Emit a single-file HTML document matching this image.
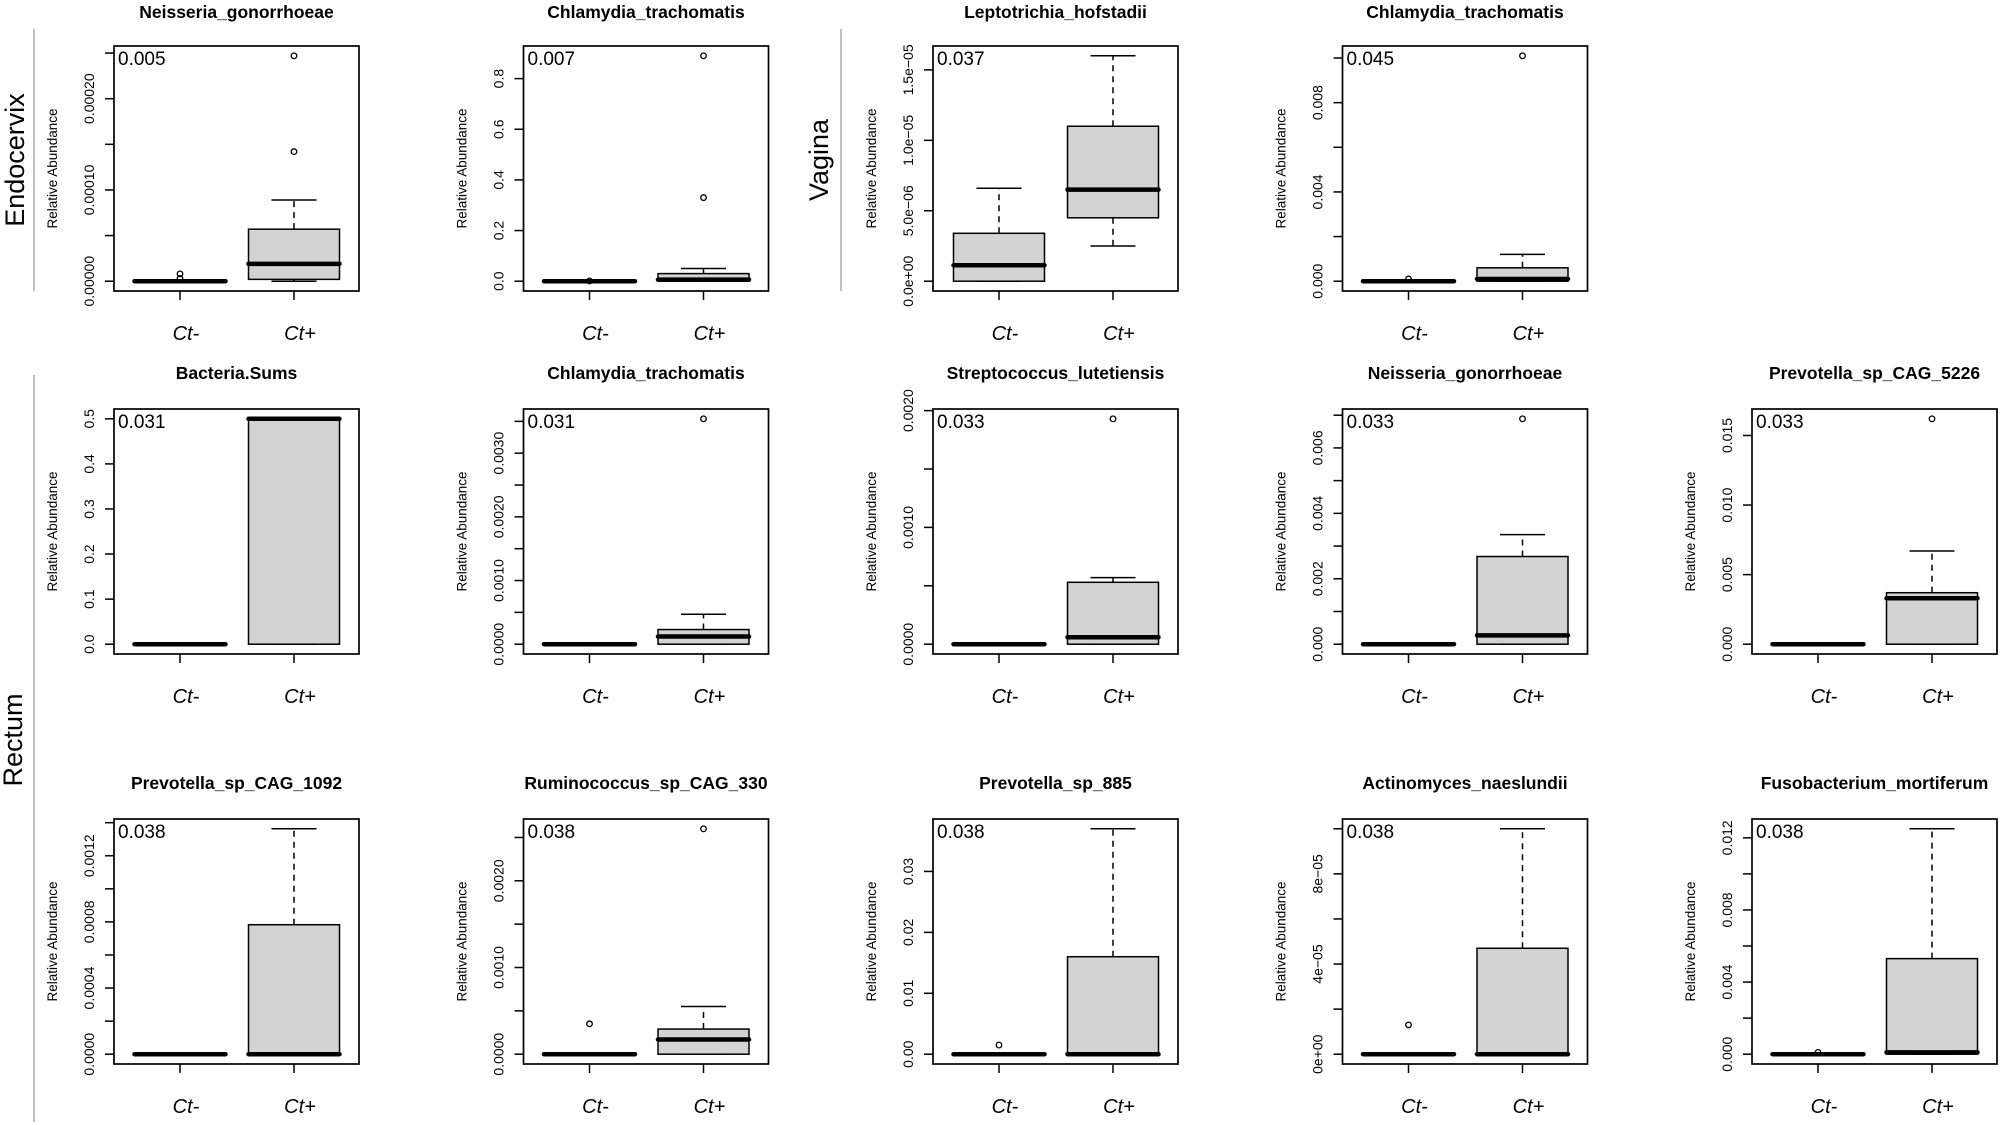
<!DOCTYPE html>
<html><head><meta charset="utf-8"><style>
html,body{margin:0;padding:0;background:#fff;}
svg{display:block;font-family:"Liberation Sans",Arial,sans-serif;}
</style></head><body>
<svg id="s" width="2000" height="1125" viewBox="0 0 2000 1125" xmlns="http://www.w3.org/2000/svg">
<text x="0" y="0" font-size="27" transform="translate(24,160) rotate(-90)" text-anchor="middle">Endocervix</text>
<line x1="34" y1="29" x2="34" y2="291" stroke="#aaa" stroke-width="1.5"/>
<text x="0" y="0" font-size="27" transform="translate(828,160) rotate(-90)" text-anchor="middle">Vagina</text>
<line x1="841" y1="29" x2="841" y2="291" stroke="#aaa" stroke-width="1.5"/>
<text x="0" y="0" font-size="27" transform="translate(22,740) rotate(-90)" text-anchor="middle">Rectum</text>
<line x1="34" y1="375" x2="34" y2="1122" stroke="#aaa" stroke-width="1.5"/>
</svg>
<script>
var S=document.getElementById('s');var out='';
var P=[
 {c:0,r:0,t:"Neisseria_gonorrhoeae",p:"0.005",max:0.000247,ticks:[0,5e-5,1e-4,1.5e-4,2e-4,2.5e-4],lab:{0:"0.00000",2:"0.00010",4:"0.00020"},
  a:[0,0,0,0,0,[0.000008,0.000003]],b:[0,0.000002,0.000019,0.000057,0.000089,[0.000142,0.000247]]},
 {c:1,r:0,t:"Chlamydia_trachomatis",p:"0.007",max:0.89,ticks:[0,0.2,0.4,0.6,0.8],lab:{0:"0.0",1:"0.2",2:"0.4",3:"0.6",4:"0.8"},
  a:[0,0,0,0,0,[0.001]],b:[0,0,0.006,0.03,0.05,[0.33,0.89]]},
 {c:2,r:0,t:"Leptotrichia_hofstadii",p:"0.037",max:1.6e-5,ticks:[0,5e-6,1e-5,1.5e-5],lab:{0:"0.0e+00",1:"5.0e\u221206",2:"1.0e\u221205",3:"1.5e\u221205"},
  a:[0,0,1.13e-6,3.4e-6,6.6e-6,[]],b:[2.5e-6,4.5e-6,6.5e-6,1.1e-5,1.6e-5,[]]},
 {c:3,r:0,t:"Chlamydia_trachomatis",p:"0.045",max:0.0101,ticks:[0,0.002,0.004,0.006,0.008,0.010],lab:{0:"0.000",2:"0.004",4:"0.008"},
  a:[0,0,0,0,0,[0.0001]],b:[0,0,0.0001,0.0006,0.0012,[0.0101]]},
 {c:0,r:1,t:"Bacteria.Sums",p:"0.031",max:0.5,ticks:[0,0.1,0.2,0.3,0.4,0.5],lab:{0:"0.0",1:"0.1",2:"0.2",3:"0.3",4:"0.4",5:"0.5"},
  a:[0,0,0,0,0,[]],b:[0,0,0.5,0.5,0.5,[]]},
 {c:1,r:1,t:"Chlamydia_trachomatis",p:"0.031",max:0.00354,ticks:[0,5e-4,1e-3,1.5e-3,2e-3,2.5e-3,3e-3,3.5e-3],lab:{0:"0.0000",2:"0.0010",4:"0.0020",6:"0.0030"},
  a:[0,0,0,0,0,[]],b:[0,0,0.00012,0.00023,0.00047,[0.00354]]},
 {c:2,r:1,t:"Streptococcus_lutetiensis",p:"0.033",max:0.00193,ticks:[0,5e-4,1e-3,1.5e-3,2e-3],lab:{0:"0.0000",2:"0.0010",4:"0.0020"},
  a:[0,0,0,0,0,[]],b:[0,0,0.00006,0.00053,0.00057,[0.00193]]},
 {c:3,r:1,t:"Neisseria_gonorrhoeae",p:"0.033",max:0.00689,ticks:[0,0.001,0.002,0.003,0.004,0.005,0.006,0.007],lab:{0:"0.000",2:"0.002",4:"0.004",6:"0.006"},
  a:[0,0,0,0,0,[]],b:[0,0,0.00027,0.00268,0.00335,[0.00689]]},
 {c:4,r:1,t:"Prevotella_sp_CAG_5226",p:"0.033",max:0.0162,ticks:[0,0.005,0.010,0.015],lab:{0:"0.000",1:"0.005",2:"0.010",3:"0.015"},
  a:[0,0,0,0,0,[]],b:[0,0,0.0033,0.0037,0.0067,[0.0162]]},
 {c:0,r:2,t:"Prevotella_sp_CAG_1092",p:"0.038",max:0.001363,ticks:[0,2e-4,4e-4,6e-4,8e-4,1e-3,1.2e-3,1.4e-3],lab:{0:"0.0000",2:"0.0004",4:"0.0008",6:"0.0012"},
  a:[0,0,0,0,0,[]],b:[0,0,0,0.000783,0.001363,[]]},
 {c:1,r:2,t:"Ruminococcus_sp_CAG_330",p:"0.038",max:0.0026,ticks:[0,5e-4,1e-3,1.5e-3,2e-3,2.5e-3],lab:{0:"0.0000",2:"0.0010",4:"0.0020"},
  a:[0,0,0,0,0,[0.00035]],b:[0,0,0.00017,0.00029,0.00055,[0.0026]]},
 {c:2,r:2,t:"Prevotella_sp_885",p:"0.038",max:0.037,ticks:[0,0.01,0.02,0.03],lab:{0:"0.00",1:"0.01",2:"0.02",3:"0.03"},
  a:[0,0,0,0,0,[0.0015]],b:[0,0,0,0.016,0.037,[]]},
 {c:3,r:2,t:"Actinomyces_naeslundii",p:"0.038",max:1.0e-4,ticks:[0,2e-5,4e-5,6e-5,8e-5,1e-4],lab:{0:"0e+00",2:"4e\u221205",4:"8e\u221205"},
  a:[0,0,0,0,0,[1.3e-5]],b:[0,0,0,4.7e-5,1.0e-4,[]]},
 {c:4,r:2,t:"Fusobacterium_mortiferum",p:"0.038",max:0.0125,ticks:[0,0.002,0.004,0.006,0.008,0.010,0.012],lab:{0:"0.000",2:"0.004",4:"0.008",6:"0.012"},
  a:[0,0,0,0,0,[0.0001]],b:[0,0,0.0001,0.0053,0.0125,[]]}
];
var LX=[114,523.5,933,1342.5,1752], TY=[46,409,819], W=245, TO=[-28,-30,-30];
P.forEach(function(p){
 var L=LX[p.c],T=TY[p.r];
 function Y(v){return T+9.8+(1-v/p.max)*225.4;}
 var s='';
 s+='<text x="'+(L+W/2)+'" y="'+(T+TO[p.r])+'" font-size="17.5" font-weight="bold" text-anchor="middle">'+p.t+'</text>';
 function box(cx,d){
  var lo=Y(d[0]),q1=Y(d[1]),md=Y(d[2]),q3=Y(d[3]),hi=Y(d[4]);
  var g='';
  if(hi<q3-0.5) g+='<line x1="'+cx+'" y1="'+q3+'" x2="'+cx+'" y2="'+hi+'" stroke="#000" stroke-width="1.5" stroke-dasharray="6,5"/>';
  if(lo>q1+0.5) g+='<line x1="'+cx+'" y1="'+q1+'" x2="'+cx+'" y2="'+lo+'" stroke="#000" stroke-width="1.5" stroke-dasharray="6,5"/>';
  g+='<line x1="'+(cx-22.5)+'" y1="'+hi+'" x2="'+(cx+22.5)+'" y2="'+hi+'" stroke="#000" stroke-width="1.5"/>';
  g+='<line x1="'+(cx-22.5)+'" y1="'+lo+'" x2="'+(cx+22.5)+'" y2="'+lo+'" stroke="#000" stroke-width="1.5"/>';
  g+='<rect x="'+(cx-45.5)+'" y="'+q3+'" width="91" height="'+Math.max(q1-q3,0.01)+'" fill="#d3d3d3" stroke="#000" stroke-width="1.5"/>';
  g+='<line x1="'+(cx-45.5)+'" y1="'+md+'" x2="'+(cx+45.5)+'" y2="'+md+'" stroke="#000" stroke-width="4.5" stroke-linecap="round"/>';
  d[5].forEach(function(o){g+='<circle cx="'+cx+'" cy="'+Y(o)+'" r="2.8" fill="none" stroke="#000" stroke-width="1.3"/>';});
  return g;
 }
 s+=box(L+66,p.a)+box(L+180,p.b);
 s+='<rect x="'+L+'" y="'+T+'" width="'+W+'" height="'+W+'" fill="none" stroke="#000" stroke-width="1.7"/>';
 p.ticks.forEach(function(v,i){
  var y=Y(v);
  s+='<line x1="'+(L-9)+'" y1="'+y+'" x2="'+L+'" y2="'+y+'" stroke="#000" stroke-width="1.5"/>';
  if(p.lab[i]!==undefined) s+='<text font-size="14" text-anchor="middle" transform="translate('+(L-20)+','+y+') rotate(-90)">'+p.lab[i]+'</text>';
 });
 [66,180].forEach(function(o){s+='<line x1="'+(L+o)+'" y1="'+(T+W)+'" x2="'+(L+o)+'" y2="'+(T+W+9)+'" stroke="#000" stroke-width="1.5"/>';});
 s+='<text x="'+(L+72)+'" y="'+(T+W+49)+'" font-size="20" font-style="italic" text-anchor="middle">Ct-</text>';
 s+='<text x="'+(L+186)+'" y="'+(T+W+49)+'" font-size="20" font-style="italic" text-anchor="middle">Ct+</text>';
 s+='<text x="'+(L+4)+'" y="'+(T+19)+'" font-size="19">'+p.p+'</text>';
 s+='<text font-size="13.5" text-anchor="middle" transform="translate('+(L-57)+','+(T+W/2)+') rotate(-90)">Relative Abundance</text>';
 out+=s;
});
S.insertAdjacentHTML('beforeend',out);
</script>
</body></html>
